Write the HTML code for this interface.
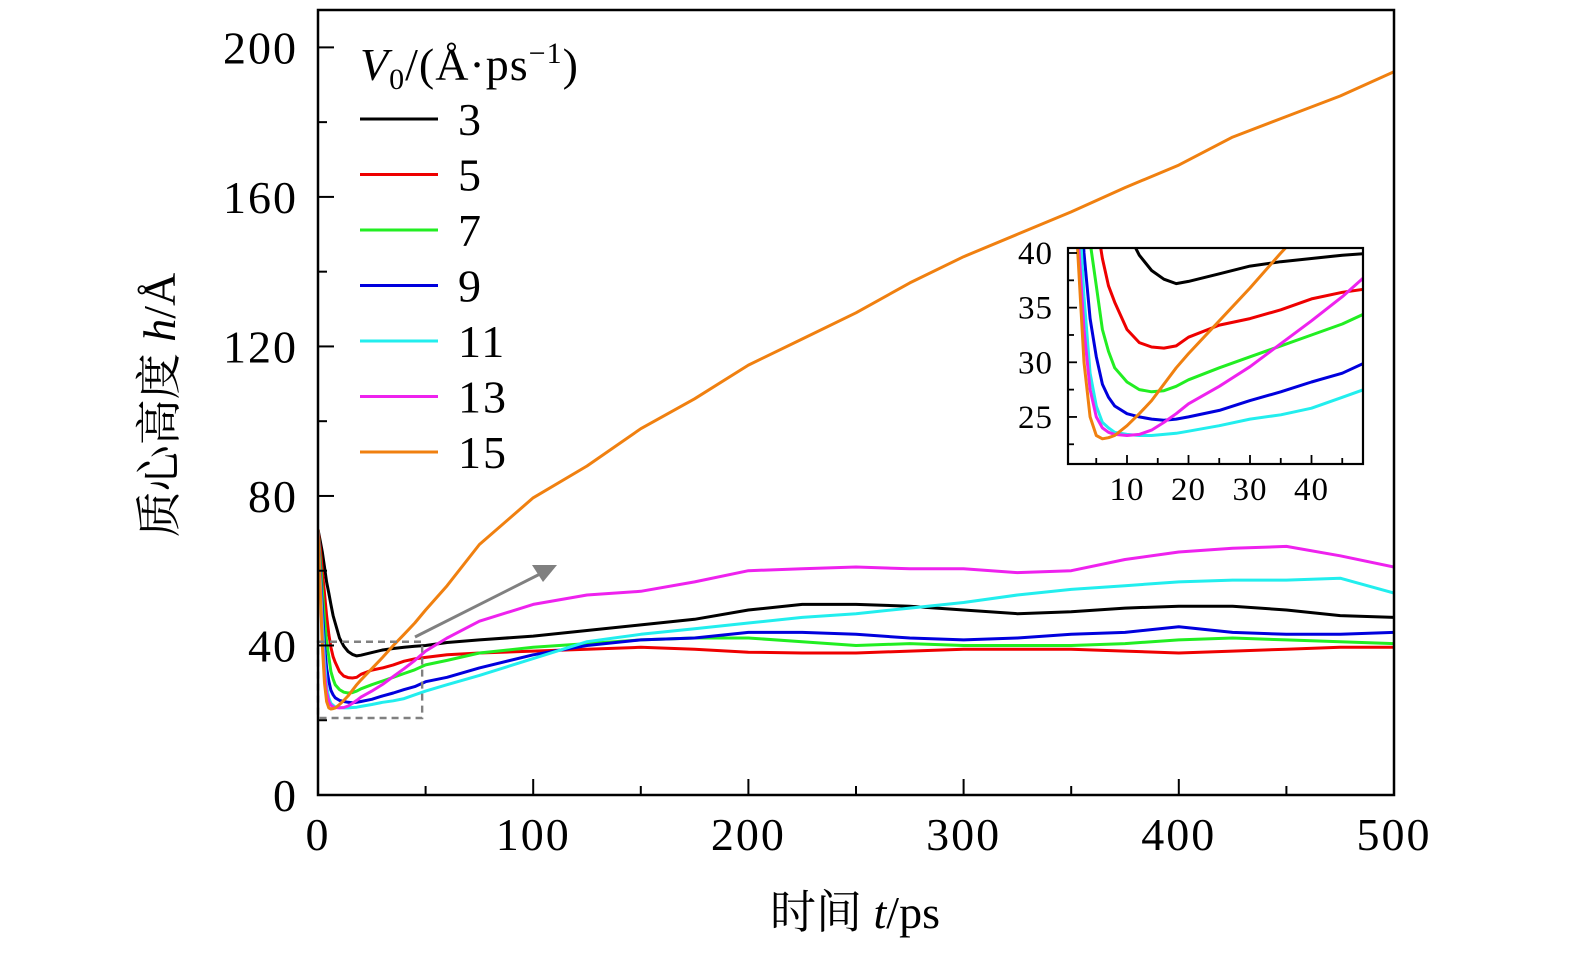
<!DOCTYPE html>
<html><head><meta charset="utf-8"><style>
body{margin:0;background:#fff;}
svg{display:block;font-family:"Liberation Serif","Noto Serif CJK SC",serif;}
</style></head><body>
<svg id="chart" width="1575" height="955" viewBox="0 0 1575 955" xmlns="http://www.w3.org/2000/svg"></svg>
<script>
const times=[0,1,2,3,4,5,6,7,8,10,12,14,16,18,20,25,30,35,40,45,50,60,75,100,125,150,175,200,225,250,275,300,325,350,375,400,425,450,475,500];
const v3=[71,68,65,61,57,54,51,48,46,42,39.8,38.4,37.6,37.2,37.4,38.1,38.8,39.2,39.5,39.8,40,40.8,41.5,42.5,44,45.5,47,49.5,51,51,50.5,49.5,48.5,49,50,50.5,50.5,49.5,48,47.5];
const v5=[71,66,60,54,48,43,39.5,37,35.5,33,31.8,31.4,31.3,31.5,32.3,33.4,34,34.8,35.8,36.4,36.8,37.5,38,38.5,39,39.5,39,38.2,38,38,38.5,39,39,39,38.5,38,38.5,39,39.5,39.5];
const v7=[71,63,55,47,41,37,33,31,29.5,28.2,27.5,27.3,27.4,27.8,28.4,29.5,30.5,31.5,32.5,33.5,34.8,36,38,39.5,40.5,41.5,42,42,41,40,40.5,40,40,40,40.5,41.5,42,41.5,41,40.5];
const v9=[71,60,50,40,34,30.5,28,26.8,26,25.3,25,24.8,24.7,24.8,25,25.6,26.5,27.3,28.2,29,30.3,31.5,34,37.5,40,41.5,42,43.5,43.5,43,42,41.5,42,43,43.5,45,43.5,43,43,43.5];
const v11=[71,58,46,36,29,26,24.5,24,23.6,23.4,23.3,23.3,23.4,23.5,23.7,24.2,24.8,25.2,25.8,26.8,27.8,29.5,32,36.5,41,43,44.5,46,47.5,48.5,50,51.5,53.5,55,56,57,57.5,57.5,58,54];
const v13=[71,56,42,33,27.5,25,24,23.6,23.4,23.3,23.4,23.8,24.5,25.3,26.2,27.8,29.6,31.7,33.8,36,38.5,42,46.5,51,53.5,54.5,57,60,60.5,61,60.5,60.5,59.5,60,63,65,66,66.5,64,61];
const v15=[71,55,40,30,25,23.3,23,23.1,23.3,24.2,25.3,26.5,28,29.5,30.8,33.8,36.8,40,43,46,49.5,56,67,79.5,88,98,106,115,122,129,137,144,150,156,162.5,168.5,176,181.5,187,193.5];
const seriesLabels=["3","5","7","9","11","13","15"];
const seriesVals=[v3,v5,v7,v9,v11,v13,v15];
const colors=["#000000","#ee0000","#22ee22","#0000dd","#22eeee","#ee22ee","#f08010"];
const xTicks=[0,100,200,300,400,500];
const yTicks=[0,40,80,120,160,200];
const insetXTicks=[10,20,30,40];
const insetYTicks=[25,30,35,40];

const NS="http://www.w3.org/2000/svg";
const svg=document.getElementById('chart');
function mk(tag,attrs,parent){const e=document.createElementNS(NS,tag);for(const k in attrs)e.setAttribute(k,attrs[k]);(parent||svg).appendChild(e);return e;}
const L=318,R=1394,T=10,B=795;
const sx=t=>L+(t/500)*(R-L);
const sy=v=>B-(v/210)*(B-T);
const iL=1065.5,iR=1363,iT=248,iB=464;
const isx=t=>iL+t*6.15;
const isy=v=>253+(40-v)*10.93;

const defs=mk('defs',{});
const cp=mk('clipPath',{id:'mainclip'},defs);mk('rect',{x:L,y:T,width:R-L,height:B-T},cp);
const cp2=mk('clipPath',{id:'insclip'},defs);mk('rect',{x:1068,y:iT,width:iR-1068,height:iB-iT},cp2);

const mainG=mk('g',{'clip-path':'url(#mainclip)'});
seriesVals.forEach((vals,i)=>{
  const d=vals.map((v,j)=>(j?'L':'M')+sx(times[j]).toFixed(1)+','+sy(v).toFixed(1)).join('');
  const p=mk('path',{d:d,fill:'none',stroke:colors[i],'stroke-width':3,'stroke-linejoin':'round'},mainG);
  
  
});
const zb=mk('rect',{x:sx(0),y:sy(41),width:sx(48.4)-sx(0),height:sy(20.6)-sy(41),fill:'none',stroke:'#808080','stroke-width':2.4,'stroke-dasharray':'7,5'});

const ar=mk('line',{x1:415,y1:637,x2:540,y2:574,stroke:'#808080','stroke-width':3});

mk('polygon',{points:'557,565 532,565 543,582',fill:'#808080'});

const fr=mk('rect',{x:L,y:T,width:R-L,height:B-T,fill:'none',stroke:'#000','stroke-width':2.5});

for(let t=0;t<=500;t+=50){const maj=t%100===0;mk('line',{x1:sx(t),x2:sx(t),y1:B,y2:B-(maj?16:9),stroke:'#000','stroke-width':2});}
for(let v=0;v<=200;v+=20){const maj=v%40===0;mk('line',{x1:L,x2:L+(maj?16:9),y1:sy(v),y2:sy(v),stroke:'#000','stroke-width':2});}
xTicks.forEach(t=>{const e=mk('text',{x:sx(t),y:850,'font-size':46,'letter-spacing':2,'text-anchor':'middle'});e.textContent=t;
});
yTicks.forEach(v=>{const e=mk('text',{x:298,y:sy(v)+16,'font-size':46,'letter-spacing':2,'text-anchor':'end'});e.textContent=v;
});
const xt=mk('text',{x:855,y:928,'font-size':46,'text-anchor':'middle'});
xt.innerHTML='时间 <tspan font-style="italic">t</tspan>/ps';

const yt=mk('text',{x:0,y:0,'font-size':46,'text-anchor':'middle',transform:'translate(175,405) rotate(-90)'});
yt.innerHTML='质心高度 <tspan font-style="italic">h</tspan>/Å';


const lt=mk('text',{x:360,y:80,'font-size':46,'letter-spacing':1});
lt.innerHTML='<tspan font-style="italic">V</tspan><tspan font-size="30" dy="9">0</tspan><tspan dy="-9">/(Å·ps</tspan><tspan font-size="30" dy="-17">−1</tspan><tspan dy="17">)</tspan>';

seriesLabels.forEach((s,i)=>{
  const y=119+i*55.5;
  const g=mk('g',{});
  
  mk('line',{x1:360,x2:438,y1:y,y2:y,stroke:colors[i],'stroke-width':3},g);
  const tx=mk('text',{x:458,y:y+16,'font-size':46,'letter-spacing':2},g);tx.textContent=s;
});

const ins=mk('g',{});
mk('rect',{x:1068,y:iT,width:iR-1068,height:iB-iT,fill:'#fff'},ins);
const ig=mk('g',{'clip-path':'url(#insclip)'},ins);
seriesVals.forEach((vals,i)=>{
  const pts=[];vals.forEach((v,j)=>{if(times[j]<=60)pts.push([isx(times[j]),isy(v)]);});
  const d=pts.map((p,j)=>(j?'L':'M')+p[0].toFixed(1)+','+p[1].toFixed(1)).join('');
  const p=mk('path',{d:d,fill:'none',stroke:colors[i],'stroke-width':3,'stroke-linejoin':'round'},ig);
  
  
});
mk('rect',{x:1068,y:iT,width:iR-1068,height:iB-iT,fill:'none',stroke:'#000','stroke-width':2.2},ins);
for(let t=5;t<=45;t+=5){const maj=t%10===0;mk('line',{x1:isx(t),x2:isx(t),y1:iB,y2:iB-(maj?9:6),stroke:'#000','stroke-width':1.8},ins);}
for(let v=22.5;v<=40;v+=2.5){const maj=v%5===0;mk('line',{x1:1068,x2:1068+(maj?9:6),y1:isy(v),y2:isy(v),stroke:'#000','stroke-width':1.8},ins);}
insetXTicks.forEach(t=>{const e=mk('text',{x:isx(t),y:500,'font-size':33,'letter-spacing':1,'text-anchor':'middle'},ins);e.textContent=t;
});
insetYTicks.forEach(v=>{const e=mk('text',{x:1053,y:isy(v)+11,'font-size':33,'letter-spacing':1,'text-anchor':'end'},ins);e.textContent=v;
});
</script>
</body></html>
